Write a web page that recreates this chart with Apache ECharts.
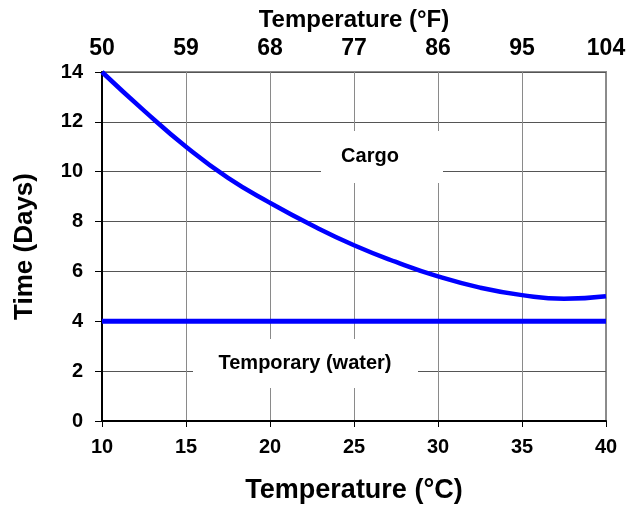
<!DOCTYPE html>
<html>
<head>
<meta charset="utf-8">
<script src="https://cdn.jsdelivr.net/npm/echarts@6/dist/echarts.min.js"></script>
<style>
  html, body { margin: 0; padding: 0; background: #fff; }
  #chart { width: 632px; height: 510px; }
</style>
</head>
<body>
<div id="chart"></div>
<script>
// temperature in °C and days
var tempC = [10, 12.5, 15, 17.5, 20, 22.5, 25, 27.5, 30, 32.5, 35, 37.5, 40];
var cargoDays = [14, 12.45, 11.0, 9.75, 8.75, 7.85, 7.05, 6.38, 5.8, 5.35, 5.05, 4.9, 5.0];
var waterC = [10, 40];
var waterDays = [4, 4];
// top axis labels (°F) for the ticks at 10, 15, ... 40 °C
var fahrenheitLabels = ['50', '59', '68', '77', '86', '95', '104'];

var FONT = "'Liberation Sans', Arial, sans-serif";

var chart = echarts.init(document.getElementById('chart'));

var option = {
  backgroundColor: '#fff',
  animation: false,
  grid: {
    left: 102, right: 26, top: 72, bottom: 89,
    show: true,
    borderColor: '#8c8c8c',
    borderWidth: 2
  },
  xAxis: [
    {
      type: 'value',
      position: 'bottom',
      min: 10, max: 40, interval: 5,
      name: 'Temperature (°C)',
      nameLocation: 'middle',
      nameGap: 56,
      nameTextStyle: { fontFamily: FONT, fontWeight: 'bold', fontSize: 27, color: '#000' },
      axisLine: { show: true, onZero: false, lineStyle: { color: '#000', width: 2 } },
      axisTick: { show: true, inside: false, length: 6, lineStyle: { color: '#000', width: 1 } },
      axisLabel: { margin: 16, fontFamily: FONT, fontWeight: 'bold', fontSize: 20, color: '#000' },
      splitLine: { show: true, lineStyle: { color: '#8a8a8a', width: 1 } }
    },
    {
      type: 'value',
      position: 'top',
      min: 10, max: 40, interval: 5,
      name: 'Temperature (°F)',
      nameLocation: 'middle',
      nameGap: 40,
      nameTextStyle: { fontFamily: FONT, fontWeight: 'bold', fontSize: 24, color: '#000' },
      axisLine: { show: false },
      axisTick: { show: false },
      axisLabel: {
        margin: 12, fontFamily: FONT, fontWeight: 'bold', fontSize: 23, color: '#000',
        formatter: function (v) { return fahrenheitLabels[Math.round((v - 10) / 5)]; }
      },
      splitLine: { show: false }
    }
  ],
  yAxis: {
    type: 'value',
    min: 0, max: 14, interval: 2,
    name: 'Time (Days)',
    nameLocation: 'middle',
    nameRotate: 90,
    nameGap: 64,
    nameTextStyle: { fontFamily: FONT, fontWeight: 'bold', fontSize: 26, color: '#000' },
    axisLine: { show: true, lineStyle: { color: '#000', width: 2 } },
    axisTick: { show: true, inside: false, length: 7, lineStyle: { color: '#000', width: 1 } },
    axisLabel: { margin: 19, fontFamily: FONT, fontWeight: 'bold', fontSize: 20, color: '#000' },
    splitLine: { show: true, lineStyle: { color: '#555', width: 1 } }
  },
  series: [
    {
      name: 'Cargo',
      type: 'line',
      smooth: true,
      symbol: 'none',
      data: tempC.map(function (t, i) { return [t, cargoDays[i]]; }),
      lineStyle: { color: '#0000ff', width: 4.5 }
    },
    {
      name: 'Temporary (water)',
      type: 'line',
      symbol: 'none',
      data: waterC.map(function (t, i) { return [t, waterDays[i]]; }),
      lineStyle: { color: '#0000ff', width: 5 }
    }
  ],
  graphic: [
    { type: 'rect', z: 5, shape: { x: 321, y: 131, width: 122, height: 52 }, style: { fill: '#fff' } },
    { type: 'text', z: 6, x: 370, y: 156, style: {
        text: 'Cargo', fill: '#000', font: 'bold 20px ' + FONT, align: 'center', verticalAlign: 'middle' } },
    { type: 'rect', z: 5, shape: { x: 193, y: 339, width: 225, height: 49 }, style: { fill: '#fff' } },
    { type: 'text', z: 6, x: 305, y: 363, style: {
        text: 'Temporary (water)', fill: '#000', font: 'bold 20px ' + FONT, align: 'center', verticalAlign: 'middle' } }
  ]
};

chart.setOption(option);
</script>
</body>
</html>
